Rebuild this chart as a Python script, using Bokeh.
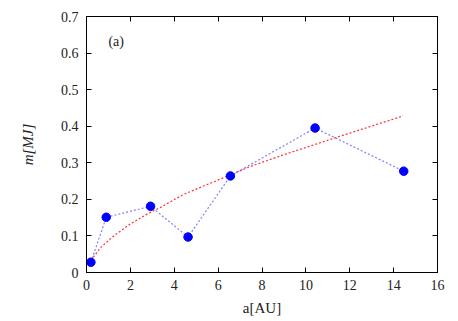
from bokeh.plotting import figure
from bokeh.models import FixedTicker, LinearAxis, Label, Range1d
from bokeh.embed import file_html
from bokeh.resources import INLINE

# data points (a [AU], m [M_J])
a_obs = [0.2, 0.9, 2.92, 4.63, 6.56, 10.42, 14.46]
m_obs = [0.028, 0.151, 0.181, 0.097, 0.264, 0.395, 0.277]

# fitted curve
a_fit = [0.2, 0.64, 1.24, 2.0, 2.77, 3.37, 4.44, 5.96, 7.47, 8.99, 11.27, 14.43]
m_fit = [0.033, 0.068, 0.100, 0.133, 0.160, 0.178, 0.214, 0.252, 0.290, 0.322, 0.367, 0.428]

x_ticks = [0, 2, 4, 6, 8, 10, 12, 14, 16]
y_ticks = [0, 0.1, 0.2, 0.3, 0.4, 0.5, 0.6, 0.7]

FONT = "'Liberation Serif', serif"

p = figure(width=450, height=318, output_backend="svg", toolbar_location=None,
           x_range=Range1d(0, 16), y_range=Range1d(0, 0.7),
           min_border_left=86, min_border_right=13, min_border_top=16, min_border_bottom=41)
p.grid.visible = False
p.outline_line_color = "black"
p.outline_line_width = 1
p.background_fill_color = "white"
p.border_fill_color = "white"

p.line(a_fit, m_fit, line_color="#ff3030", line_dash="2 2", line_width=1.2)
p.line(a_obs, m_obs, line_color="#8080ff", line_dash="2 2", line_width=1.2)
p.scatter(a_obs, m_obs, size=8.5, fill_color="#0000ff", line_color="#0000ff")

def style(ax, labels=True):
    ax.axis_line_color = "black"
    ax.major_tick_in = 5
    ax.major_tick_out = 0
    ax.minor_tick_line_color = None
    ax.major_tick_line_color = "black"
    ax.major_label_text_font = FONT
    ax.major_label_text_font_size = "14px"
    ax.major_label_text_color = "#222222"
    if not labels:
        ax.major_label_text_font_size = "0px"
        ax.major_label_text_alpha = 0

p.xaxis.ticker = FixedTicker(ticks=x_ticks)
p.yaxis.ticker = FixedTicker(ticks=y_ticks)
p.yaxis.major_label_overrides = {0: "0"}
style(p.xaxis[0])
style(p.yaxis[0])
p.xaxis.major_label_standoff = 7
p.yaxis.major_label_standoff = 8

p.xaxis.axis_label = "a[AU]"
p.xaxis.axis_label_text_font = FONT
p.xaxis.axis_label_text_font_style = "normal"
p.xaxis.axis_label_text_font_size = "15px"
p.xaxis.axis_label_standoff = 7
p.xaxis.axis_label_text_color = "#222222"

p.yaxis.axis_label = "m[MJ]"
p.yaxis.axis_label_text_font = FONT
p.yaxis.axis_label_text_font_style = "italic"
p.yaxis.axis_label_text_font_size = "15px"
p.yaxis.axis_label_standoff = 22
p.yaxis.axis_label_text_color = "#222222"

top = LinearAxis(ticker=FixedTicker(ticks=x_ticks))
style(top, labels=False)
p.add_layout(top, "above")
right = LinearAxis(ticker=FixedTicker(ticks=y_ticks))
style(right, labels=False)
p.add_layout(right, "right")

p.add_layout(Label(x=1.0, y=0.61, text="(a)", text_font=FONT, text_font_size="14px",
                   text_color="#222222"))

open("out.html", "w").write(file_html(p, INLINE))
